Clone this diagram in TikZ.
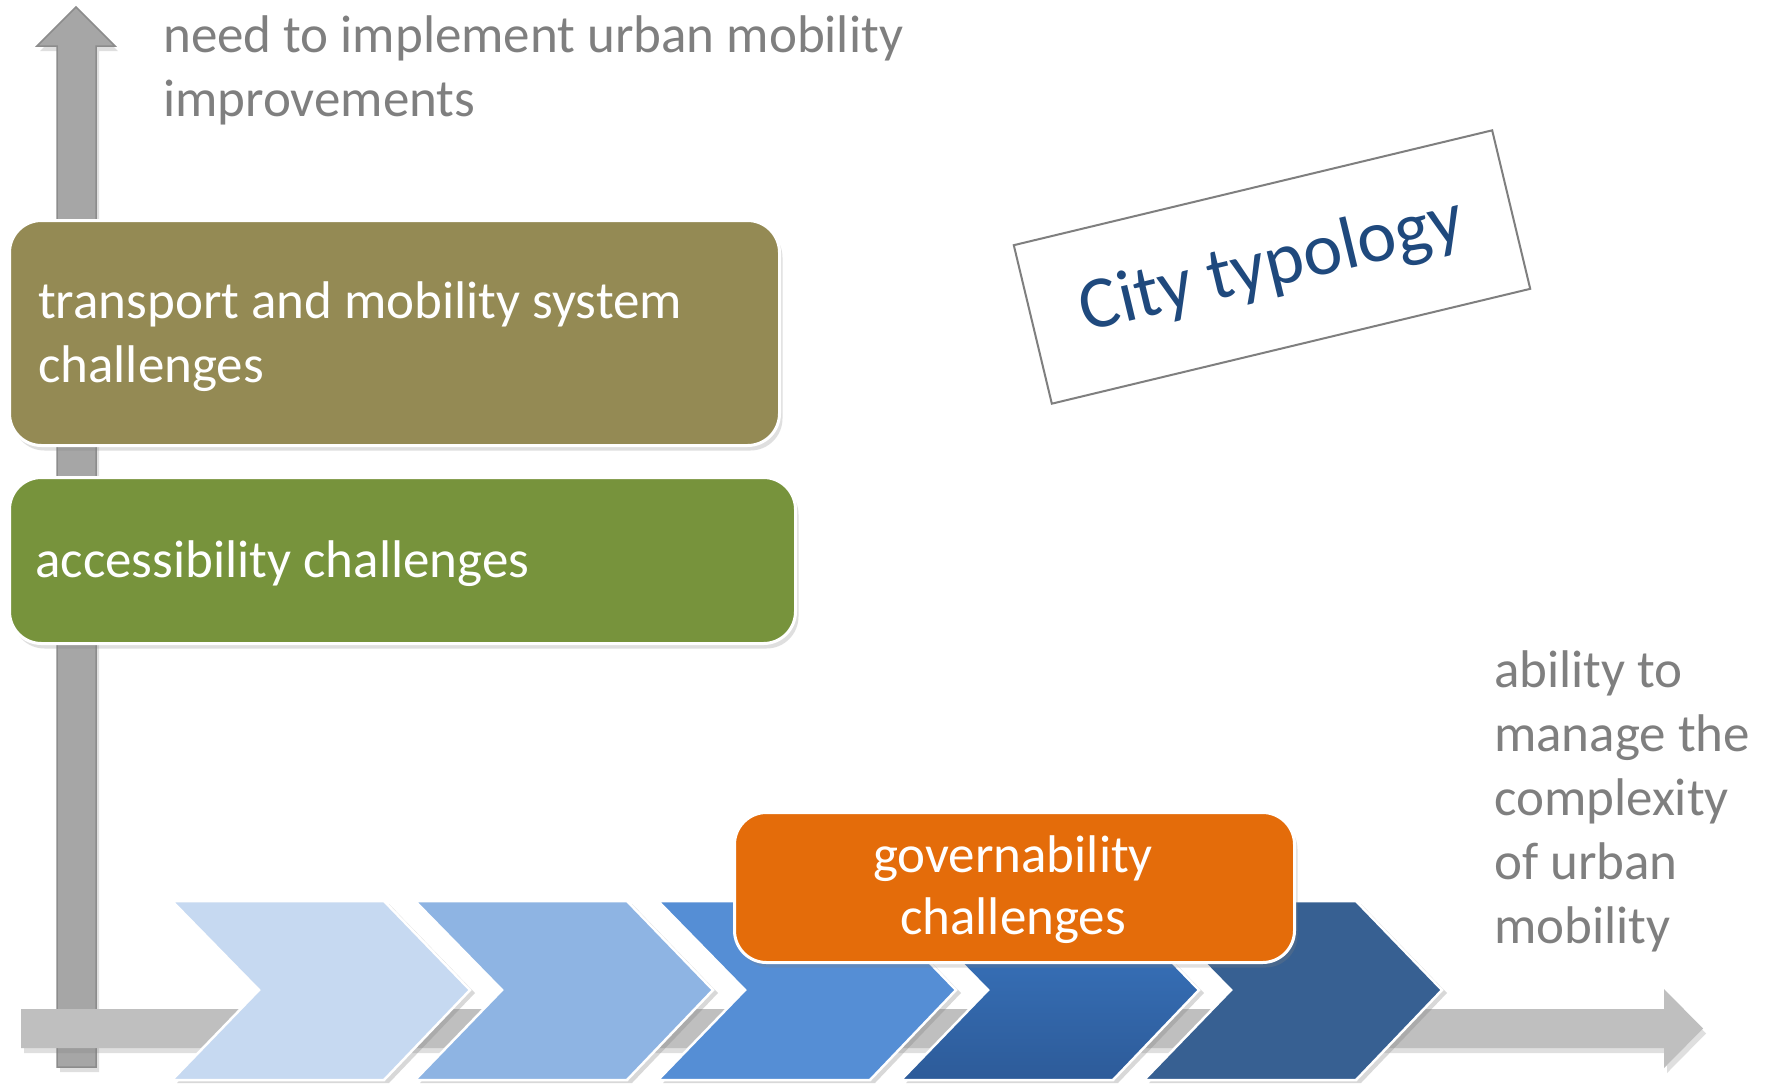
\documentclass[tikz,border=0pt]{standalone}
\usepackage{fontspec}
\setmainfont{Carlito}
\usetikzlibrary{shadows}
\definecolor{axisv}{HTML}{A6A6A6}
\definecolor{axisvedge}{HTML}{8C8C8C}
\definecolor{axish}{HTML}{BFBFBF}
\definecolor{labgray}{HTML}{7F7F7F}
\definecolor{olivebox}{HTML}{948A54}
\definecolor{greenbox}{HTML}{77933C}
\definecolor{orangebox}{HTML}{E46C0A}
\definecolor{cityblue}{HTML}{1F497D}
\definecolor{chA}{HTML}{C6D9F1}
\definecolor{chB}{HTML}{8EB4E3}
\definecolor{chC}{HTML}{558ED5}
\definecolor{chDtop}{HTML}{3A77C2}
\definecolor{chDbot}{HTML}{2D5B99}
\definecolor{chE}{HTML}{376092}
\begin{document}
\begin{tikzpicture}[x=1pt,y=-1pt,
  bigfont/.style={font=\fontsize{53}{64}\selectfont},
  graylbl/.style={bigfont, text=labgray, inner sep=0pt, anchor=base west},
  whitelbl/.style={bigfont, text=white, inner sep=0pt, anchor=base west},
  whitectr/.style={bigfont, text=white, inner sep=0pt, anchor=base},
  softshadow/.style={drop shadow={opacity=0.25, shadow xshift=3pt, shadow yshift=-5pt}},
  challengebox/.style={draw=white, line width=3pt, rounded corners=32pt, inner sep=0pt,
     anchor=north west, softshadow},
  chev/.style={draw=white, line width=2.5pt, drop shadow={opacity=0.3, shadow xshift=5pt, shadow yshift=-3pt}}
]
\useasboundingbox[fill=white] (0,0) rectangle (1770,1085);

% vertical axis arrow
\path[fill=axisv, draw=axisvedge, line width=1.5pt, softshadow]
  (76,7) -- (115,46) -- (96,46) -- (96,1067) -- (57,1067) -- (57,46) -- (37,46) -- cycle;
% horizontal axis arrow
\path[fill=axish, softshadow]
  (21,1009) -- (1664,1009) -- (1664,989) -- (1703,1028.5) -- (1664,1068) -- (1664,1048) -- (21,1048) -- cycle;

% chevrons
\foreach \xo/\col in {172/chA, 415/chB, 658/chC}{
  \path[chev, fill=\col] (\xo,901) -- ++(212,0) -- ++(86,89) -- ++(-86,90) -- ++(-212,0) -- ++(87,-90) -- cycle;
}
\path[chev, top color=chDtop, bottom color=chDbot]
  (901,901) -- ++(212,0) -- ++(86,89) -- ++(-86,90) -- ++(-212,0) -- ++(87,-90) -- cycle;
\path[chev, fill=chE] (1144,901) -- ++(212,0) -- ++(86,89) -- ++(-86,90) -- ++(-212,0) -- ++(87,-90) -- cycle;

% challenge boxes
\node[challengebox, fill=olivebox, minimum width=770pt, minimum height=225pt] (tms) at (8,219) {};
\node[challengebox, fill=greenbox, minimum width=786pt, minimum height=166pt] (acc) at (8,476) {};
\node[challengebox, fill=orangebox, minimum width=560pt, minimum height=150pt] (gov) at (733,811) {};

\node[whitelbl] (tms1) at (38,318) {transport and mobility system};
\node[whitelbl] (tms2) at (38,382) {challenges};
\node[whitelbl] (acc1) at (35,577) {accessibility challenges};
\node[whitectr] (gov1) at (1013,872) {governability};
\node[whitectr] (gov2) at (1013,934) {challenges};

% city typology
\node[draw=labgray, line width=2pt, fill=white, rotate=13.5, minimum width=492pt,
      minimum height=163pt, inner sep=0pt] (typo) at (1272,267) {};
\node[text=cityblue, rotate=13.5, font=\fontsize{74}{89}\selectfont, inner sep=0pt]
      (typotxt) at (typo.center) {City typology};

% axis labels
\node[graylbl] (ylab1) at (163,52) {need to implement urban mobility};
\node[graylbl] (ylab2) at (163,116) {improvements};
\node[graylbl] (xlab1) at (1494,687) {ability to};
\node[graylbl] (xlab2) at (1494,751) {manage the};
\node[graylbl] (xlab3) at (1494,815) {complexity};
\node[graylbl] (xlab4) at (1494,879) {of urban};
\node[graylbl] (xlab5) at (1494,943) {mobility};
\end{tikzpicture}
\end{document}
